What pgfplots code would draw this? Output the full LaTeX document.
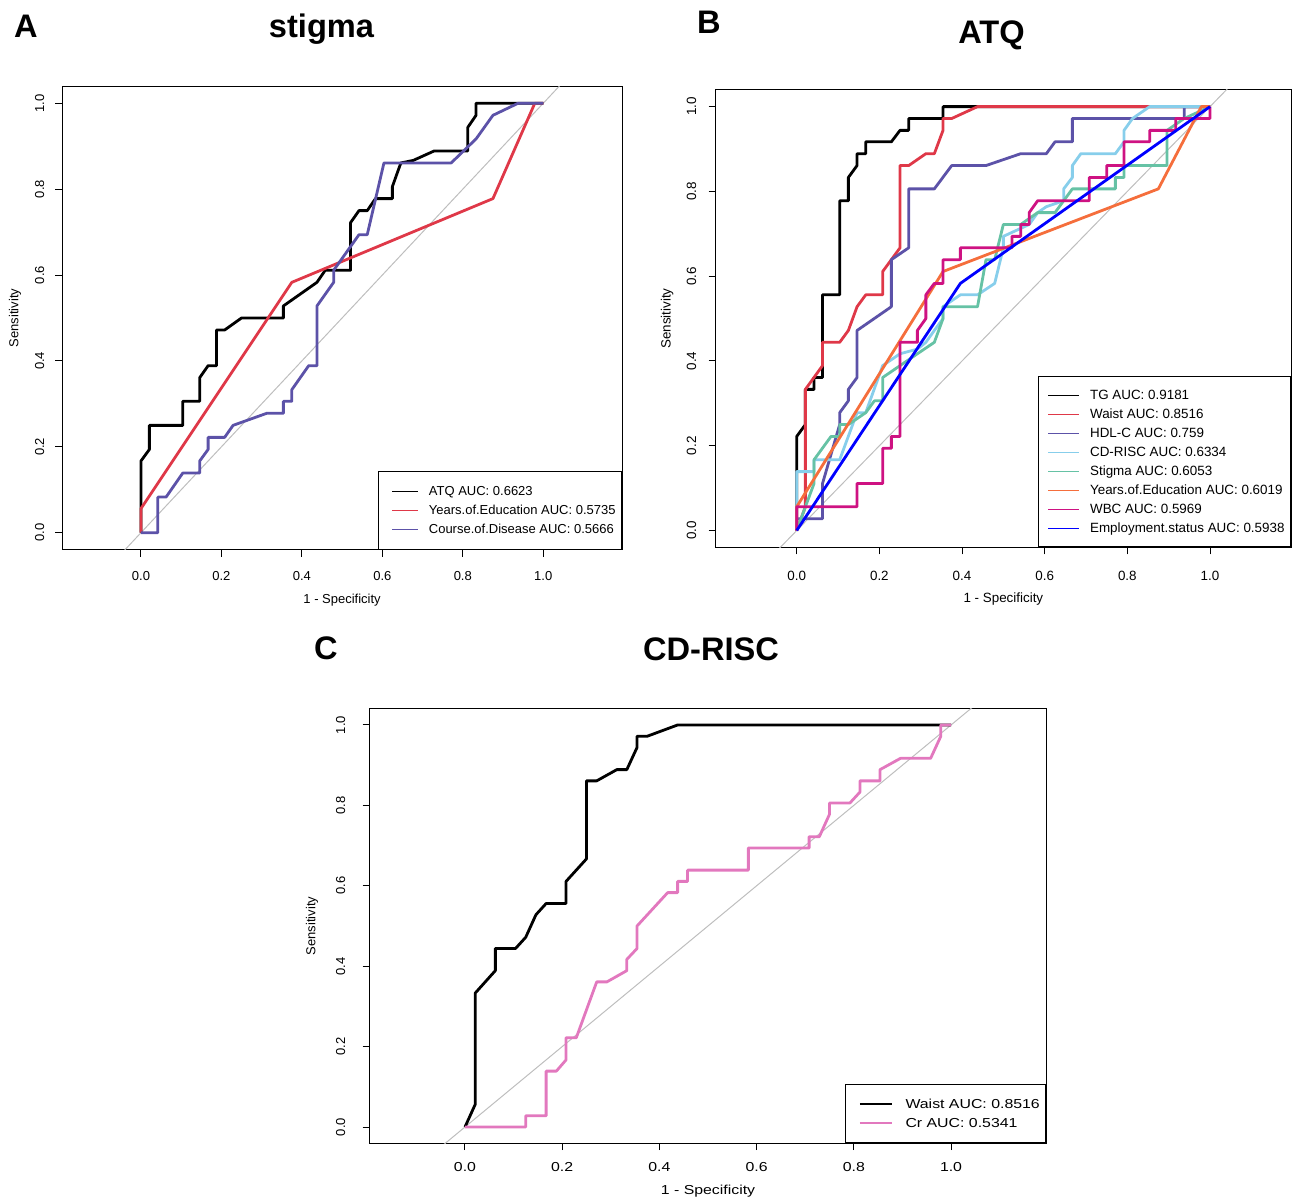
\documentclass[border=0pt]{standalone}
\usepackage{fontspec}
\setmainfont{Liberation Sans}
\newfontfamily\widesans[FakeStretch=1.22]{Liberation Sans}
\usepackage{pgfplots}
\pgfplotsset{compat=1.18}

\definecolor{rocred}{RGB}{223,56,72}
\definecolor{rocpurple}{RGB}{92,82,168}
\definecolor{rocsky}{RGB}{135,206,235}
\definecolor{rocgreen}{RGB}{102,194,165}
\definecolor{rocorange}{RGB}{245,110,60}
\definecolor{rocmagenta}{RGB}{206,18,130}
\definecolor{rocblue}{RGB}{0,0,255}
\definecolor{rocpink}{RGB}{226,120,190}
\definecolor{diaggray}{RGB}{190,190,190}

\newcommand\fA{\fontsize{6.5}{7.5}\selectfont}
\newcommand\fB{\fontsize{6.7}{7.7}\selectfont}
\newcommand\fC{\widesans\fontsize{6.5}{7.5}\selectfont}
\newcommand\fT{\fontsize{16.3}{18}\selectfont\bfseries}

\pgfplotsset{
  roc/.style={
    scale only axis, anchor=south west,
    xmin=-0.196, xmax=1.196, ymin=-0.04, ymax=1.04,
    xtick={0,0.2,0.4,0.6,0.8,1}, ytick={0,0.2,0.4,0.6,0.8,1},
    xticklabels={0.0,0.2,0.4,0.6,0.8,1.0},
    yticklabels={0.0,0.2,0.4,0.6,0.8,1.0},
    xtick pos=bottom, ytick pos=left,
    tick align=outside, major tick length=3.5pt,
    every tick/.style={black, line width=0.5pt},
    axis line style={line width=0.5pt},
    xticklabel style={anchor=north, inner sep=0pt},
    yticklabel style={rotate=90, anchor=south, inner sep=0pt},
    xlabel={1 - Specificity}, ylabel={Sensitivity},
    legend cell align=left,
    legend style={at={(1,0)}, anchor=south east, draw=black, line width=0.5pt,
      inner xsep=3pt, row sep=0pt,
      nodes={inner sep=0pt, text height=7pt, text depth=2.5pt}},
  },
  curve/.style={line width=1.4pt, line join=round},
  diag/.style={diaggray, line width=0.5pt, forget plot},
}

\begin{document}
\begin{tikzpicture}
\path[use as bounding box] (0,0) rectangle (648pt,599.5pt);

% ---------------- panel A: stigma
\begin{axis}[roc, at={(31.05pt,324.55pt)}, width=280pt, height=231.9pt,
  font=\fA, xticklabel shift=7pt, yticklabel shift=5.2pt,
  xlabel style={at={(axis description cs:0.5,-0.108)}, anchor=center},
  ylabel style={at={(axis description cs:-0.084,0.5)}, anchor=center},
  legend style={font=\fA, inner ysep=5.25pt, column sep=5pt},
  legend image code/.code={\path (0pt,0pt); \draw[line width=0.7pt] (3pt,0pt) -- (16pt,0pt);},
]
\addplot[diag] coordinates {(-0.3,-0.3) (1.3,1.3)};
\addplot[curve, black] coordinates {
  (0,0) (0,0.167) (0.021,0.194) (0.021,0.25) (0.104,0.25) (0.104,0.306)
  (0.146,0.306) (0.146,0.361) (0.167,0.389) (0.188,0.389) (0.188,0.472)
  (0.208,0.472) (0.25,0.5) (0.354,0.5) (0.354,0.528) (0.4375,0.583)
  (0.458,0.611) (0.521,0.611) (0.521,0.722) (0.542,0.75) (0.5625,0.75)
  (0.583,0.778) (0.625,0.778) (0.625,0.806) (0.646,0.861) (0.677,0.867)
  (0.729,0.889) (0.8125,0.889) (0.8125,0.944) (0.833,0.972) (0.833,1)
  (0.9375,1) (1,1)};
\addlegendentry{ATQ AUC: 0.6623}
\addplot[curve, rocred] coordinates {
  (0,0) (0,0.056) (0.375,0.583) (0.875,0.778) (0.979,1) (1,1)};
\addlegendentry{Years.of.Education AUC: 0.5735}
\addplot[curve, rocpurple] coordinates {
  (0,0) (0.042,0) (0.042,0.083) (0.0625,0.083) (0.104,0.139) (0.146,0.139)
  (0.146,0.167) (0.167,0.194) (0.167,0.222) (0.208,0.222) (0.229,0.25)
  (0.3125,0.278) (0.354,0.278) (0.354,0.306) (0.375,0.306) (0.375,0.333)
  (0.417,0.389) (0.4375,0.389) (0.4375,0.528) (0.479,0.583) (0.479,0.611)
  (0.542,0.694) (0.5625,0.694) (0.604,0.861) (0.771,0.861) (0.833,0.917)
  (0.875,0.972) (0.9375,1) (1,1)};
\addlegendentry{Course.of.Disease AUC: 0.5666}
\end{axis}

% ---------------- panel B: ATQ
\begin{axis}[roc, at={(357.85pt,325.75pt)}, width=287.65pt, height=228.9pt,
  font=\fB, xticklabel shift=8pt, yticklabel shift=6pt,
  xlabel style={at={(axis description cs:0.5,-0.1123)}, anchor=center},
  ylabel style={at={(axis description cs:-0.0845,0.5)}, anchor=center},
  legend style={font=\fB, inner ysep=4.5pt, column sep=5pt},
  legend image code/.code={\path (0pt,0pt); \draw[line width=0.7pt] (1.5pt,0pt) -- (17pt,0pt);},
]
\addplot[diag] coordinates {(-0.3,-0.3) (1.3,1.3)};
\addplot[curve, black] coordinates {
  (0,0) (0,0.222) (0.021,0.25) (0.021,0.333) (0.042,0.333) (0.042,0.361)
  (0.0625,0.361) (0.0625,0.556) (0.104,0.556) (0.104,0.778) (0.125,0.778)
  (0.125,0.833) (0.146,0.861) (0.146,0.889) (0.167,0.889) (0.167,0.917)
  (0.229,0.917) (0.25,0.944) (0.271,0.944) (0.271,0.972) (0.354,0.972)
  (0.354,1) (1,1)};
\addlegendentry{TG AUC: 0.9181}
\addplot[curve, rocred] coordinates {
  (0,0) (0.021,0.056) (0.021,0.333) (0.0625,0.389) (0.0625,0.444)
  (0.104,0.444) (0.125,0.472) (0.146,0.528) (0.167,0.556) (0.208,0.556)
  (0.208,0.611) (0.25,0.667) (0.25,0.861) (0.271,0.861) (0.3125,0.889)
  (0.333,0.889) (0.354,0.944) (0.354,0.972) (0.375,0.972) (0.4375,1) (1,1)};
\addlegendentry{Waist AUC: 0.8516}
\addplot[curve, rocpurple] coordinates {
  (0,0) (0,0.028) (0.0625,0.028) (0.0625,0.111) (0.104,0.25) (0.104,0.278)
  (0.125,0.306) (0.125,0.333) (0.146,0.361) (0.146,0.472) (0.229,0.528)
  (0.229,0.639) (0.271,0.667) (0.271,0.806) (0.333,0.806) (0.375,0.861)
  (0.458,0.861) (0.542,0.889) (0.604,0.889) (0.625,0.917) (0.667,0.917)
  (0.667,0.972) (0.9375,0.972) (0.9375,1) (1,1)};
\addlegendentry{HDL-C AUC: 0.759}
\addplot[curve, rocsky] coordinates {
  (0,0) (0,0.139) (0.042,0.139) (0.042,0.167) (0.104,0.167) (0.146,0.278)
  (0.167,0.278) (0.208,0.389) (0.25,0.417) (0.292,0.428) (0.3125,0.444)
  (0.333,0.472) (0.354,0.5) (0.354,0.528) (0.396,0.556) (0.4375,0.556)
  (0.479,0.583) (0.5,0.667) (0.5,0.694) (0.5625,0.722) (0.583,0.75)
  (0.604,0.764) (0.646,0.778) (0.646,0.806) (0.667,0.833) (0.667,0.861)
  (0.6875,0.889) (0.771,0.889) (0.792,0.917) (0.792,0.944) (0.8125,0.972)
  (0.854,1) (1,1)};
\addlegendentry{CD-RISC AUC: 0.6334}
\addplot[curve, rocgreen] coordinates {
  (0,0) (0.021,0.056) (0.042,0.111) (0.042,0.167) (0.083,0.222) (0.104,0.222)
  (0.104,0.25) (0.125,0.25) (0.167,0.278) (0.188,0.306) (0.208,0.306)
  (0.208,0.361) (0.25,0.389) (0.292,0.417) (0.333,0.444) (0.354,0.5)
  (0.354,0.528) (0.4375,0.528) (0.458,0.639) (0.479,0.639) (0.5,0.722)
  (0.542,0.722) (0.583,0.75) (0.625,0.75) (0.667,0.806) (0.771,0.806)
  (0.771,0.833) (0.792,0.833) (0.792,0.861) (0.896,0.861) (0.896,0.944)
  (0.9375,0.972) (1,1)};
\addlegendentry{Stigma AUC: 0.6053}
\addplot[curve, rocorange] coordinates {
  (0,0) (0,0.056) (0.354,0.611) (0.875,0.806) (0.979,1) (1,1)};
\addlegendentry{Years.of.Education AUC: 0.6019}
\addplot[curve, rocmagenta] coordinates {
  (0,0) (0,0.056) (0.146,0.056) (0.146,0.111) (0.208,0.111) (0.208,0.194)
  (0.229,0.194) (0.229,0.222) (0.25,0.222) (0.25,0.444) (0.292,0.444)
  (0.292,0.472) (0.3125,0.5) (0.3125,0.556) (0.333,0.583) (0.354,0.583)
  (0.354,0.639) (0.396,0.639) (0.396,0.667) (0.521,0.667) (0.521,0.694)
  (0.542,0.694) (0.542,0.722) (0.5625,0.722) (0.5625,0.75) (0.583,0.778)
  (0.708,0.778) (0.708,0.833) (0.75,0.833) (0.75,0.861) (0.792,0.861)
  (0.792,0.917) (0.854,0.917) (0.854,0.944) (0.917,0.944) (0.917,0.972)
  (1,0.972) (1,1)};
\addlegendentry{WBC AUC: 0.5969}
\addplot[curve, rocblue] coordinates {(0,0) (0.396,0.583) (1,1)};
\addlegendentry{Employment.status AUC: 0.5938}
\end{axis}

% ---------------- panel C: CD-RISC
\begin{axis}[roc, at={(184.85pt,27.95pt)}, width=338.3pt, height=217.1pt,
  font=\fA, xticklabel shift=6.2pt, yticklabel shift=8.5pt,
  xticklabel style={font=\fC},
  xlabel style={font=\fC, at={(axis description cs:0.5,-0.1105)}, anchor=center},
  ylabel style={at={(axis description cs:-0.0851,0.5)}, anchor=center},
  legend style={font=\fC, inner ysep=5pt, column sep=6.5pt},
  legend image code/.code={\path (0pt,0pt); \draw[line width=0.7pt] (3.5pt,0pt) -- (19.5pt,0pt);},
]
\addplot[diag] coordinates {(-0.3,-0.3) (1.3,1.3)};
\addplot[curve, black] coordinates {
  (0,0) (0.021,0.056) (0.021,0.333) (0.0625,0.389) (0.0625,0.444)
  (0.104,0.444) (0.125,0.472) (0.146,0.528) (0.167,0.556) (0.208,0.556)
  (0.208,0.611) (0.25,0.667) (0.25,0.861) (0.271,0.861) (0.3125,0.889)
  (0.333,0.889) (0.354,0.944) (0.354,0.972) (0.375,0.972) (0.4375,1) (1,1)};
\addlegendentry{Waist AUC: 0.8516}
\addplot[curve, rocpink] coordinates {
  (0,0) (0.125,0) (0.125,0.028) (0.167,0.028) (0.167,0.139) (0.188,0.139)
  (0.208,0.167) (0.208,0.222) (0.229,0.222) (0.271,0.361) (0.292,0.361)
  (0.333,0.389) (0.333,0.417) (0.354,0.444) (0.354,0.5) (0.417,0.583)
  (0.4375,0.583) (0.4375,0.611) (0.458,0.611) (0.458,0.639) (0.583,0.639)
  (0.583,0.694) (0.708,0.694) (0.708,0.722) (0.729,0.722) (0.75,0.778)
  (0.75,0.806) (0.792,0.806) (0.8125,0.833) (0.8125,0.861) (0.854,0.861)
  (0.854,0.889) (0.896,0.917) (0.958,0.917) (0.979,0.972) (0.979,1) (1,1)};
\addlegendentry{Cr AUC: 0.5341}
\end{axis}

% panel letters and titles
\node[font=\fT, anchor=base] at (13pt,580.5pt) {A};
\node[font=\fT, anchor=base] at (160.75pt,580.75pt) {stigma};
\node[font=\fT, anchor=base] at (354.5pt,582.5pt) {B};
\node[font=\fT, anchor=base] at (495.75pt,577.75pt) {ATQ};
\node[font=\fT, anchor=base] at (163pt,269.5pt) {C};
\node[font=\fT, anchor=base] at (355.5pt,269pt) {CD-RISC};
\end{tikzpicture}
\end{document}
